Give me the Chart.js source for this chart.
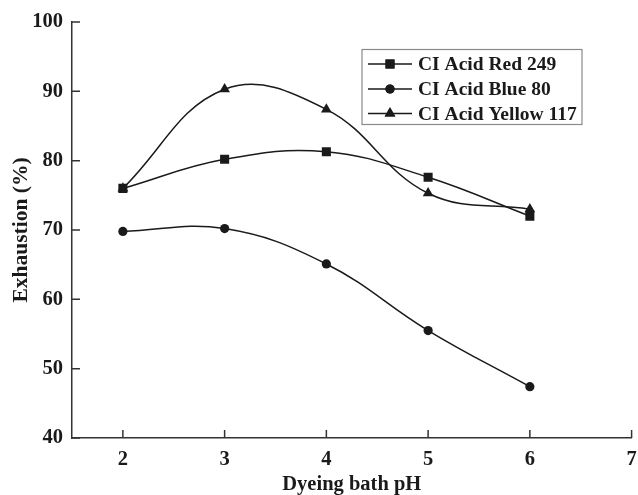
<!DOCTYPE html>
<html>
<head>
<meta charset="utf-8">
<script src="https://cdn.jsdelivr.net/npm/chart.js@4/dist/chart.umd.min.js"></script>
<style>
  html, body { margin: 0; padding: 0; background: #fff; }
  #wrap { width: 638px; height: 495px; position: relative; }
</style>
</head>
<body>
<div id="wrap"><canvas id="c"></canvas></div>
<script>
// 染浴 pH 對吸盡率的影響
const phValues = [2, 3, 4, 5, 6];
const red249 = [76.0, 80.2, 81.3, 77.6, 72.0];
const blue80 = [69.8, 70.2, 65.1, 55.5, 47.4];
const yellow117 = [76.0, 90.3, 87.4, 75.3, 73.0];
const xTicks = [2, 3, 4, 5, 6, 7];
const yTicks = [40, 50, 60, 70, 80, 90, 100];

const INK = '#1a1a1a';
const AXIS = '#333333';
const SERIF = "'Liberation Serif', 'Times New Roman', serif";

const toPts = (ys) => ys.map((y, i) => ({ x: phValues[i], y }));

function series(label, ys, pointStyle, radius) {
  return {
    label,
    data: toPts(ys),
    borderColor: INK,
    backgroundColor: INK,
    borderWidth: 1.5,
    pointStyle,
    pointRadius: radius,
    pointBorderWidth: 0,
    pointBackgroundColor: INK,
    tension: 0.4,
  };
}

// 刻度朝內（x 往上、y 往右）
const innerTicks = {
  id: 'innerTicks',
  afterDraw(chart) {
    const { ctx, scales: { x, y }, chartArea } = chart;
    ctx.save();
    ctx.strokeStyle = AXIS;
    ctx.lineWidth = 1.5;
    ctx.beginPath();
    xTicks.forEach((v) => {
      const px = x.getPixelForValue(v);
      ctx.moveTo(px, chartArea.bottom);
      ctx.lineTo(px, chartArea.bottom - 8);
    });
    yTicks.forEach((v) => {
      const py = y.getPixelForValue(v);
      ctx.moveTo(chartArea.left, py);
      ctx.lineTo(chartArea.left + 8, py);
    });
    ctx.stroke();
    ctx.restore();
  },
};

// 圖例框：線段 + 標記 + 文字
const boxLegend = {
  id: 'boxLegend',
  afterDraw(chart) {
    const { ctx } = chart;
    const bx = 362, by = 49.5, bw = 220, bh = 75;
    ctx.save();
    ctx.strokeStyle = '#8a8a8a';
    ctx.lineWidth = 1.2;
    ctx.strokeRect(bx, by, bw, bh);
    const rowY = [64, 89, 113.5];
    ctx.font = `bold 19.5px ${SERIF}`;
    ctx.textBaseline = 'middle';
    chart.data.datasets.forEach((ds, i) => {
      const cy = rowY[i];
      ctx.strokeStyle = INK;
      ctx.lineWidth = 1.5;
      ctx.beginPath();
      ctx.moveTo(368, cy);
      ctx.lineTo(412, cy);
      ctx.stroke();
      ctx.fillStyle = INK;
      Chart.helpers.drawPoint(ctx, { pointStyle: ds.pointStyle, rotation: 0, borderWidth: 0, radius: ds.pointRadius }, 390, cy);
      ctx.fill();
      ctx.fillText(ds.label, 418, cy + 1);
    });
    ctx.restore();
  },
};

new Chart(document.getElementById('c'), {
  type: 'line',
  data: {
    datasets: [
      series('CI Acid Red 249', red249, 'rect', 6.4),
      series('CI Acid Blue 80', blue80, 'circle', 4.6),
      series('CI Acid Yellow 117', yellow117, 'triangle', 6.2),
    ],
  },
  options: {
    responsive: true,
    maintainAspectRatio: false,
    animation: false,
    layout: { padding: { left: 0, top: 22, right: 6, bottom: 0 } },
    plugins: { legend: { display: false }, tooltip: { enabled: false } },
    scales: {
      x: {
        type: 'linear',
        min: 1.5,
        max: 7,
        afterBuildTicks: (s) => { s.ticks = xTicks.map((v) => ({ value: v })); },
        afterFit: (s) => { s.height = 57; },
        grid: { display: false },
        border: { display: true, color: AXIS, width: 1.5 },
        ticks: { color: INK, padding: 1, maxRotation: 0, font: { family: SERIF, size: 20.5, weight: 'bold' } },
        title: { display: true, text: 'Dyeing bath pH', color: INK, padding: 0, font: { family: SERIF, size: 20.5, weight: 'bold', lineHeight: 1.0 } },
      },
      y: {
        min: 40,
        max: 100,
        afterBuildTicks: (s) => { s.ticks = yTicks.map((v) => ({ value: v })); },
        afterFit: (s) => { s.width = 72; },
        grid: { display: false },
        border: { display: true, color: AXIS, width: 1.5 },
        ticks: { color: INK, padding: 1, font: { family: SERIF, size: 20.5, weight: 'bold' } },
        title: { display: true, text: 'Exhaustion (%)', color: INK, padding: { top: 11, bottom: 0 }, font: { family: SERIF, size: 21.5, weight: 'bold', lineHeight: 1.0 } },
      },
    },
  },
  plugins: [innerTicks, boxLegend],
});
</script>
</body>
</html>
